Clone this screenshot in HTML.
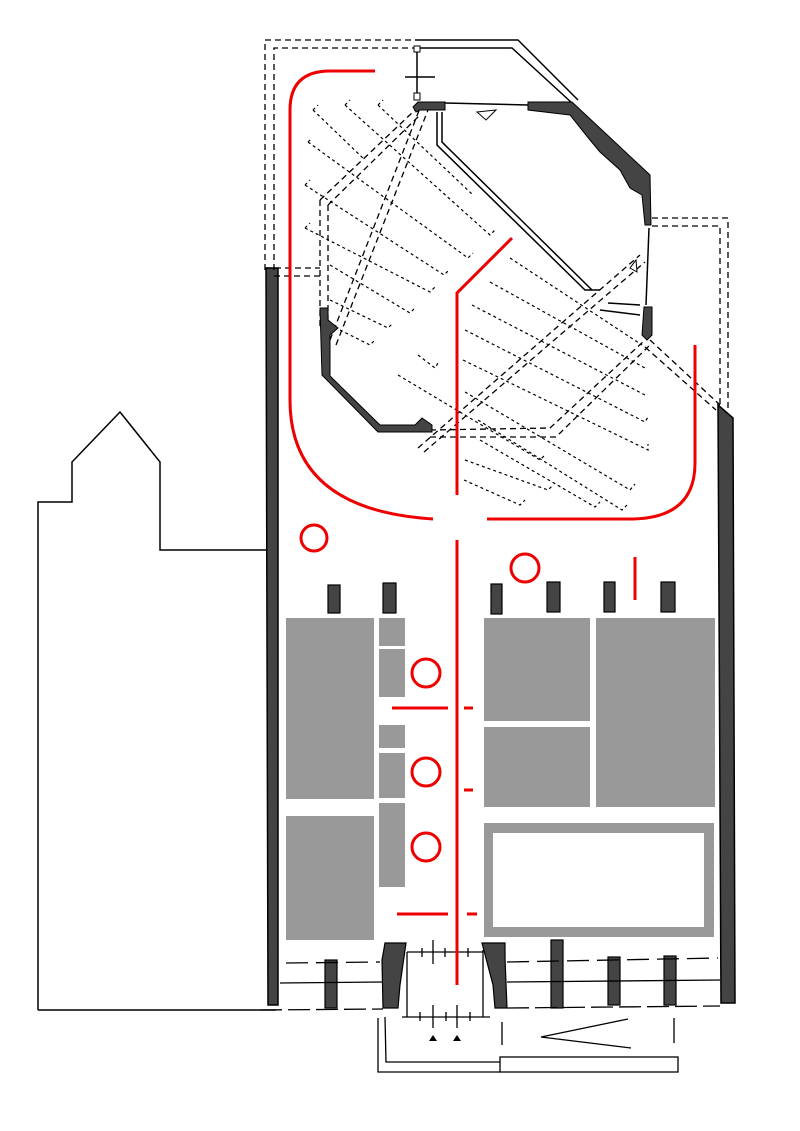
<!DOCTYPE html>
<html><head><meta charset="utf-8"><style>html,body{margin:0;padding:0;background:#fff}svg{display:block}</style></head>
<body>
<svg width="800" height="1131" viewBox="0 0 800 1131" xmlns="http://www.w3.org/2000/svg">
<rect width="800" height="1131" fill="#fff"/>
<!-- left building -->
<path d="M38,1010 L38,502 L72,502 L72,462 L120,412 L160,462 L160,550 L266,550 M38,1010 L276,1010" fill="none" stroke="#000" stroke-width="1.5"/>
<!-- walls -->
<path d="M266,268 L278,268 L278,1005 L268,1005 Z" fill="#444" stroke="#000" stroke-width="1.5"/>
<path d="M718,405 L733,418 L735,1003 L721,1003 Z" fill="#444" stroke="#000" stroke-width="1.5"/>
<!-- outer dashed -->
<g fill="none" stroke="#000" stroke-width="1.3" stroke-dasharray="6,4">
<path d="M265,270 L265,40 L415,40"/><path d="M274,270 L274,48 L415,48"/>
<path d="M265,268 L320,268"/><path d="M274,276 L320,276"/>
<path d="M652,218 L728,218 L728,410"/><path d="M652,226 L720,226 L720,405"/>
<path d="M330,340 L420,108"/><path d="M336,345 L428,110"/>
<path d="M418,448 L640,255"/><path d="M424,452 L645,262"/>
<path d="M430,430 L550,428 L645,340"/><path d="M430,437 L556,437 L650,345"/>
<path d="M650,340 L720,405"/><path d="M645,347 L716,410"/>
<path d="M320,200 L320,330"/><path d="M328,205 L328,330"/>
<path d="M320,200 L415,110"/><path d="M328,205 L420,115"/>
</g>
<!-- top solid -->
<g fill="none" stroke="#000" stroke-width="1.5">
<path d="M415,40 L518,40 L578,100"/><path d="M420,48 L512,48 L572,103"/>
<path d="M417,48 L417,100"/><path d="M405,77 L435,77"/>
<path d="M445,103 L528,105"/>
<path d="M437,112 L437,145 L585,290 L600,290"/><path d="M442,112 L442,142 L592,290"/>
<path d="M608,303 L640,305"/><path d="M600,310 L640,315"/>
<path d="M649,228 L646,305"/>
</g>
<rect x="414" y="46" width="6" height="6" fill="#fff" stroke="#000"/>
<rect x="414" y="93" width="6" height="7" fill="#fff" stroke="#000"/>
<path d="M477,112 L496,110 L486,120 Z" fill="#fff" stroke="#000"/>
<path d="M636,260 L637,272 L630,268 Z" fill="#fff" stroke="#000"/>
<!-- octagon dark walls -->
<g fill="#444" stroke="#000" stroke-width="1">
<path d="M413,107 L418,102 L445,102 L445,110 L420,110 L416,112 Z"/>
<path d="M528,102 L572,102 L650,175 L651,225 L645,225 L642,195 L630,188 L620,170 L600,152 L590,140 L570,115 L528,110 Z"/>
<path d="M320,308 L328,308 L328,320 L338,328 L330,335 L330,376 L380,425 L415,425 L422,418 L432,425 L432,432 L378,432 L322,375 Z"/>
<path d="M644,307 L652,307 L652,335 L647,340 L642,335 Z"/>
</g>
<!-- seat rows -->
<g fill="none" stroke="#000" stroke-width="1.2" stroke-dasharray="3,3">
<path d="M313,110 L318,105 M313,110 L365,160"/>
<path d="M345,105 L350,100 M345,105 L490,235 L495,230"/>
<path d="M378,105 L383,100 M378,105 L473,195"/>
<path d="M308,142 L312,138 M308,142 L468,258 L473,253"/>
<path d="M305,185 L310,180 M305,185 L444,275 L449,270"/>
<path d="M305,228 L310,223 M305,228 L430,292 L435,287"/>
<path d="M330,265 L410,313 L415,308"/>
<path d="M330,300 L388,328 L393,323"/>
<path d="M340,330 L370,345 L375,340"/>
<path d="M510,258 L642,345"/>
<path d="M490,282 L645,368"/>
<path d="M472,305 L645,395"/>
<path d="M465,330 L645,422 L648,417"/>
<path d="M463,360 L648,450 L648,444"/>
<path d="M418,355 L435,368 L438,363"/>
<path d="M398,375 L540,460 L545,455"/>
<path d="M465,392 L630,490 L635,484"/>
<path d="M478,420 L622,510 L627,505"/>
<path d="M480,440 L595,507 L600,502"/>
<path d="M465,460 L548,490 L553,485"/>
<path d="M464,480 L520,505 L525,500"/>
</g>
<!-- gray blocks -->
<g fill="#999">
<rect x="286" y="618" width="88" height="181"/>
<rect x="379" y="618" width="26" height="28"/>
<rect x="379" y="649" width="26" height="48"/>
<rect x="379" y="725" width="26" height="23"/>
<rect x="379" y="753" width="26" height="45"/>
<rect x="379" y="803" width="26" height="84"/>
<rect x="286" y="816" width="88" height="124"/>
<rect x="484" y="618" width="106" height="103"/>
<rect x="484" y="727" width="106" height="80"/>
<rect x="596" y="618" width="119" height="189"/>
<rect x="484" y="823" width="230" height="114"/>
</g>
<rect x="493" y="833" width="211" height="94" fill="#fff"/>
<!-- piers -->
<g fill="#444" stroke="#000" stroke-width="1.2">
<rect x="328" y="585" width="12" height="28"/><rect x="383" y="583" width="13" height="30"/>
<rect x="491" y="584" width="11" height="30"/><rect x="547" y="582" width="13" height="30"/>
<rect x="604" y="582" width="11" height="30"/><rect x="661" y="582" width="14" height="30"/>
<rect x="325" y="960" width="12" height="48"/>
<path d="M385,943 L406,943 L400,985 L398,1008 L383,1008 L382,960 Z"/>
<path d="M482,943 L505,943 L505,958 L507,1008 L495,1008 L493,985 Z"/>
<rect x="551" y="940" width="12" height="68"/>
<rect x="608" y="957" width="12" height="48"/><rect x="664" y="956" width="12" height="49"/>
</g>
<!-- bottom lines -->
<g fill="none" stroke="#000" stroke-width="1.3">
<path d="M286,963 L380,962 M507,962 L718,958" stroke-dasharray="22,8"/>
<path d="M280,983 L382,982 M507,982 L720,980"/>
<path d="M260,1010 L383,1009 M507,1008 L720,1006" stroke-dasharray="22,6"/>
<path d="M407,952 L407,1017 M483,950 L483,1017"/>
<path d="M407,952 L483,952 M402,1017 L490,1017"/>
<path d="M422,948 L422,957 M433,940 L433,964 M445,948 L445,957 M468,948 L468,957 M420,1012 L420,1021 M433,1005 L433,1028 M446,1012 L446,1021 M457,1005 L457,1028 M470,1012 L470,1021"/>
<path d="M378,1018 L378,1072 L500,1072 M385,1017 L386,1062 L500,1062"/>
<rect x="500" y="1057" width="178" height="15"/>
<path d="M628,1019 L541,1037 L631,1048"/>
<path d="M502,1022 L502,1045 M674,1018 L674,1043"/>
</g>
<path d="M429,1041 L433,1035 L437,1041 Z M453,1041 L457,1035 L461,1041 Z" fill="#000"/>
<!-- red -->
<g fill="none" stroke="#e00" stroke-width="3">
<path d="M375,71 L330,71 Q290,71 290,110 L290,400 Q290,510 433,519"/>
<path d="M695,345 L695,463 Q695,519 630,519 L487,519"/>
<path d="M512,238 L457,293 L457,495"/>
<path d="M457,540 L457,985"/>
<circle cx="314" cy="538" r="13"/><circle cx="525" cy="568" r="14"/>
<circle cx="426" cy="673" r="14"/><circle cx="426" cy="772" r="14"/><circle cx="426" cy="847" r="14"/>
<path d="M635,557 L635,600"/>
<path d="M392,708 L448,708 M464,708 L473,708 M464,790 L473,790 M397,914 L448,914 M467,914 L477,914"/>
</g>
</svg>
</body></html>
